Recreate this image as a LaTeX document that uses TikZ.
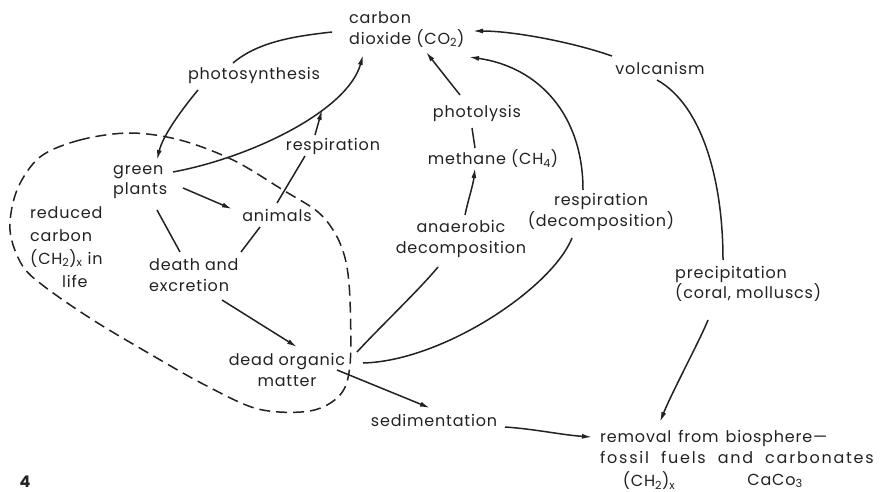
\documentclass[tikz,border=0pt]{standalone}
\usepackage{fontspec}
\setmainfont{Poppins}[LetterSpace=5]
\usetikzlibrary{arrows.meta,calc}
\definecolor{ink}{HTML}{222222}
\begin{document}
\begin{tikzpicture}[x=1pt,y=-1pt,
  lbl/.style={inner sep=0pt, font=\fontsize{16}{20.5}\selectfont, text=ink},
  ln/.style={line width=1.5pt, draw=ink},
  arr/.style={ln, -{Latex[length=10pt,width=5pt]}},
  bound/.style={line width=1.5pt, draw=ink, dash pattern=on 11pt off 6pt}]
\useasboundingbox[fill=white] (0,0) rectangle (880,492);

% labels
\node[lbl, anchor=west, align=left] (co2) at (349,29.5) {carbon\\dioxide (CO\textsubscript{2})};
\node[lbl] (photo) at (254,75) {photosynthesis};
\node[lbl] (volc) at (660,68) {volcanism};
\node[lbl] (phol) at (477,113) {photolysis};
\node[lbl] (meth) at (493,159) {methane (CH\textsubscript{4})};
\node[lbl] (resp1) at (333,146) {respiration};
\node[lbl, anchor=west, align=left] (gp) at (113,182) {green\\plants};
\node[lbl] (anim) at (277,215) {animals};
\node[lbl, anchor=west, align=left, font=\fontsize{16}{23}\selectfont] (red) at (30,247)
  {reduced\\carbon\\(CH\textsubscript{2})\textsubscript{x} in\\\hspace*{32pt}life};
\node[lbl, align=center] (anae) at (461,239) {anaerobic\\decomposition};
\node[lbl, align=center] (resp2) at (601,212) {respiration\\(decomposition)};
\node[lbl, anchor=west, align=left] (prec) at (675,284) {precipitation\\(coral, molluscs)};
\node[lbl, anchor=west, align=left] (death) at (149,275) {death and\\excretion};
\node[lbl, align=center] (dom) at (287,370) {dead organic\\matter};
\node[lbl] (sed) at (434,420) {sedimentation};
\node[lbl, anchor=west, align=left] (rem) at (600,447)
  {{\spaceskip=7pt removal from biosphere—}\\{\addfontfeature{LetterSpace=11}\spaceskip=12pt fossil fuels and carbonates}};
\node[lbl] (ch2) at (649,481) {(CH\textsubscript{2})\textsubscript{x}};
\node[lbl] (caco) at (775,481) {CaCo\textsubscript{3}};
\node[lbl, font=\fontsize{16}{18}\selectfont\bfseries] (fig) at (25,482) {4};

% boundary of living matter
\draw[bound] plot[smooth cycle, tension=0.55] coordinates {
  (130,133) (80,140) (40,157) (17,190) (10,230) (22,265) (45,287) (93,320)
  (150,354) (205,385) (258,409) (310,411) (340,395) (350,365) (350,300)
  (346,262) (336,235) (318,212) (283,190) (233,160) (180,140)};

% photosynthesis
\draw[ln] ($(co2.west)+(-17,2.5)$) .. controls +(-35,4) and +(26,-22) .. ($(photo.center)+(-21,-12)$);
\draw[arr] ($(photo.center)+(-56,15)$) .. controls +(-15,18) and +(6,-25) .. ($(gp.west)+(44,-22)$);
% plants respiration
\draw[arr] ($(gp.west)+(60,-10)$) .. controls +(80,-15) and +(-15,55) .. ($(co2.west)+(14,25.5)$);
% animal respiration
\draw[ln] ($(anim.center)+(0,-12)$) -- ($(resp1.center)+(-28,10)$);
\draw[arr] ($(resp1.center)+(-18,-11)$) -- ($(resp1.center)+(-11,-36)$);
% food chain
\draw[arr] ($(gp.west)+(70,6)$) -- ($(anim.center)+(-45,-6)$);
\draw[ln] ($(gp.west)+(44,28)$) -- ($(death.west)+(31,-23)$);
\draw[ln] ($(anim.center)+(-17,12)$) -- ($(death.west)+(92,-23)$);
\draw[arr] ($(death.west)+(73,25)$) -- ($(dom.center)+(10,-23)$);
% anaerobic path
\draw[ln] ($(dom.center)+(70,-18)$) .. controls +(20,-22) and +(-18,22) .. ($(anae.center)+(-23,28)$);
\draw[arr] ($(anae.center)+(4,-24)$) .. controls +(3,-15) and +(-2,18) .. ($(meth.center)+(-18,9)$);
\draw[ln] ($(meth.center)+(-18,-11)$) -- ($(phol.center)+(-5,15)$);
\draw[arr] ($(phol.center)+(-17,-18)$) -- ($(co2.west)+(77,22.5)$);
% decomposition respiration
\draw[ln] ($(dom.center)+(76,-7)$) .. controls +(80,-2) and +(-20,50) .. ($(resp2.center)+(-29,26)$);
\draw[arr] ($(resp2.center)+(-18,-22)$) .. controls +(0,-75) and +(70,10) .. ($(co2.west)+(120,27.5)$);
% volcanism
\draw[arr] ($(volc.center)+(-48,-12)$) .. controls +(-40,-14) and +(40,0) .. ($(co2.west)+(124,1.5)$);
\draw[ln] ($(volc.center)+(-3,12)$) .. controls +(45,25) and +(0,-80) .. ($(prec.west)+(48,-24)$);
\draw[arr] ($(prec.west)+(33,36)$) .. controls +(-8,20) and +(12,-30) .. ($(rem.west)+(60,-25)$);
% sedimentation
\draw[arr] ($(dom.center)+(50,0)$) -- ($(sed.center)+(-4,-12)$);
\draw[arr] ($(sed.center)+(71,7)$) .. controls +(30,2) and +(-30,-2) .. ($(rem.west)+(-8,-10)$);
\end{tikzpicture}
\end{document}
